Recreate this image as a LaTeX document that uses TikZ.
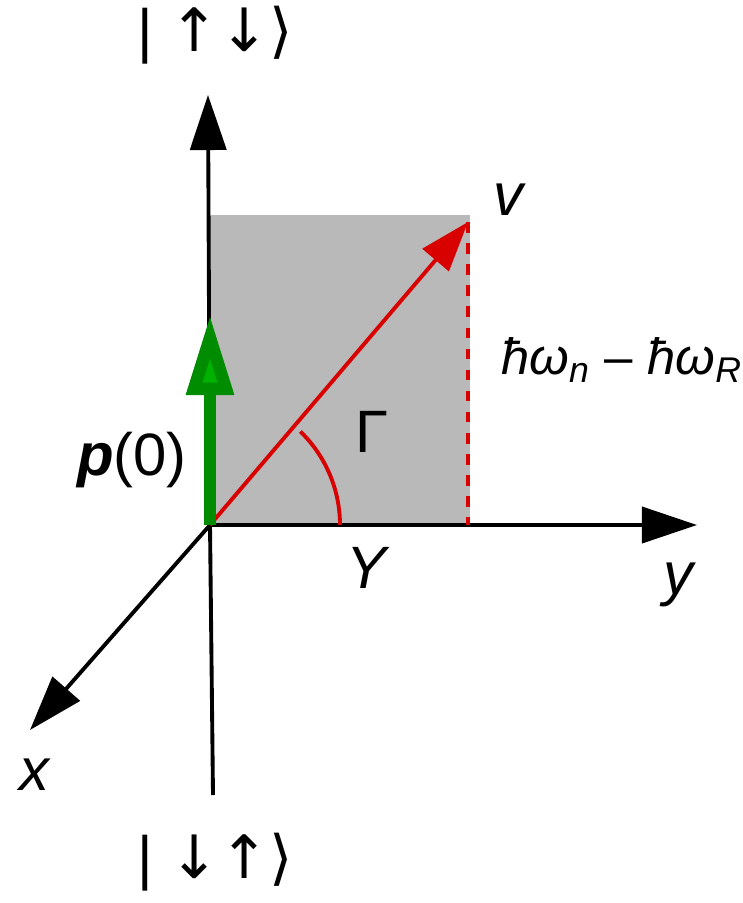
\documentclass[tikz,border=0pt]{standalone}
\usepackage{fontspec}
\setmainfont{Liberation Sans}
\newfontfamily\symfont{DejaVu Sans}
\usetikzlibrary{arrows.meta}
\tikzset{
  axis/.style={line width=1.1pt,-{Triangle[length=0.55cm,width=0.36cm]}},
  lab/.style={font=\fontsize{17}{20}\selectfont},
}
\begin{document}
\begin{tikzpicture}[x=0.01cm,y=-0.01cm]
  \useasboundingbox (0,0) rectangle (743,903);
  \coordinate (O) at (210,525);
  \coordinate (V) at (468,222);
  \coordinate (D) at (468,525);
  \fill[gray!55] (210,215) rectangle (470,525);
  % axes
  \draw[line width=1.1pt] (213,795) -- (O);
  \draw[axis] (O) -- (208,95);
  \draw[axis] (O) -- (697,525);
  \draw[axis] (O) -- (30,730);
  % vectors
  \draw[red!85!black,line width=1.1pt,dashed] (V) -- (D);
  \draw[red!85!black,line width=1.1pt,-{Triangle[length=0.5cm,width=0.34cm]}] (O) -- (V);
  \draw[red!85!black,line width=1.1pt] (340,525) arc[start angle=0,end angle=-46,radius=130];
  \draw[green!55!black,line width=3.5pt,-{Triangle[length=0.8cm,width=0.45cm,fill=green!70!black]}] (O) -- (210,315);
  % labels
  \node (up) [lab] at (215,35) {|\ {\symfont ↑↓⟩}};
  \node (dn) [lab] at (215,862) {|\ {\symfont ↓↑⟩}};
  \node (vl) [lab] at (510,200) {\textit{v}};
  \node (dl) [font=\fontsize{14.5}{17}\selectfont] at (622,360) {\textit{ħω\textsubscript{n}} – \textit{ħω\textsubscript{R}}};
  \node (gl) [lab] at (372,432) {Γ};
  \node (pl) [lab] at (132,460) {\textbf{\textit{p}}(0)};
  \node (Yl) [lab] at (368,568) {\textit{Y}};
  \node (yl) [lab] at (680,585) {\textit{y}};
  \node (xl) [lab] at (35,775) {\textit{x}};
\end{tikzpicture}
\end{document}
